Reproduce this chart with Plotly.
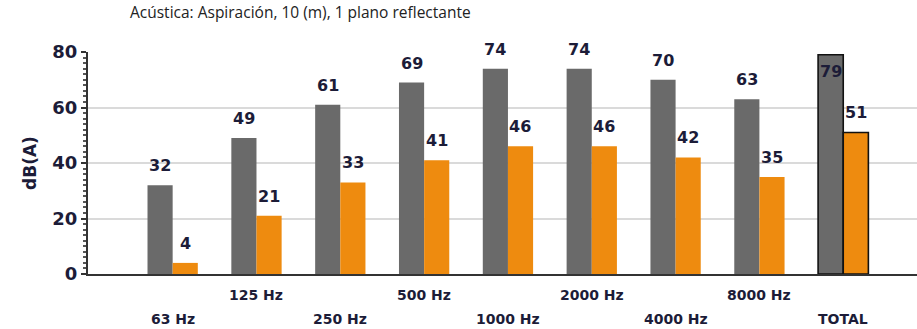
import plotly.graph_objects as go

categories = ["63 Hz", "125 Hz", "250 Hz", "500 Hz", "1000 Hz", "2000 Hz", "4000 Hz", "8000 Hz", "TOTAL"]
gray_values = [32, 49, 61, 69, 74, 74, 70, 63, 79]
orange_values = [4, 21, 33, 41, 46, 46, 42, 35, 51]
y_ticks = [0, 20, 40, 60, 80]
title_text = "Acústica: Aspiración, 10 (m), 1 plano reflectante"
y_title = "dB(A)"

GRAY = "#6a6a6a"
ORANGE = "#ee8b0f"
TXT = "#1c1c38"
BOLD = "DejaVu Sans"

n = len(categories)
line_w = [0] * (n - 1) + [1.6]

fig = go.Figure()
fig.add_trace(go.Bar(x=categories, y=gray_values, marker=dict(color=GRAY, line=dict(color="#111111", width=line_w)),
                     showlegend=False, hoverinfo="x+y"))
fig.add_trace(go.Bar(x=categories, y=orange_values, marker=dict(color=ORANGE, line=dict(color="#111111", width=line_w)),
                     showlegend=False, hoverinfo="x+y"))

annotations = []
ymax = y_ticks[-1]
for vals, xs in ((gray_values, -12.5), (orange_values, 12.5)):
    for c, v in zip(categories, vals):
        inside = v > ymax - 5
        annotations.append(dict(
            x=c, y=v, xref="x", yref="y", text=str(v), showarrow=False,
            xshift=xs, yshift=(-5 if inside else 8), yanchor=("top" if inside else "bottom"),
            font=dict(family=BOLD, size=16, color=TXT, weight="bold"),
        ))

for i, c in enumerate(categories):
    annotations.append(dict(
        x=c, y=0, xref="x", yref="paper", text=c, showarrow=False,
        yanchor="middle", yshift=(-21 if i % 2 == 1 else -45),
        font=dict(family=BOLD, size=14, color=TXT, weight="bold"),
    ))

annotations.append(dict(
    x=-0.07, y=0.5, xref="paper", yref="paper", text=y_title, showarrow=False,
    textangle=-90, xanchor="center", yanchor="middle",
    font=dict(family=BOLD, size=17, color=TXT, weight="bold"),
))

fig.update_layout(
    width=917, height=329,
    margin=dict(l=88, r=0, t=52, b=55),
    paper_bgcolor="white", plot_bgcolor="white",
    barmode="group", bargap=0.4, bargroupgap=0,
    title=dict(text=title_text, x=130 / 917, xref="container", xanchor="left",
               y=1 - 13 / 329, yref="container", yanchor="middle",
               font=dict(family="Open Sans", size=15.5, color="#222222")),
    annotations=annotations,
    xaxis=dict(range=[-1.01, 8.88], showticklabels=False, showgrid=False, zeroline=False,
               showline=True, linecolor="#333333", linewidth=2, ticks="", fixedrange=True),
    yaxis=dict(range=[0, 80], tickvals=y_ticks, showgrid=True, gridcolor="#dadada", gridwidth=1.5,
               zeroline=False, showline=True, linecolor="#333333", linewidth=2,
               ticks="outside", ticklen=5, tickcolor="#333333", tickwidth=1.5,
               minor=dict(dtick=2, ticks="outside", ticklen=3, tickcolor="#555555", showgrid=False),
               tickfont=dict(family=BOLD, size=18, color=TXT, weight="bold")),
)

fig.write_html("out.html", config={"displayModeBar": False},
               post_script="document.body.style.margin='0';")
